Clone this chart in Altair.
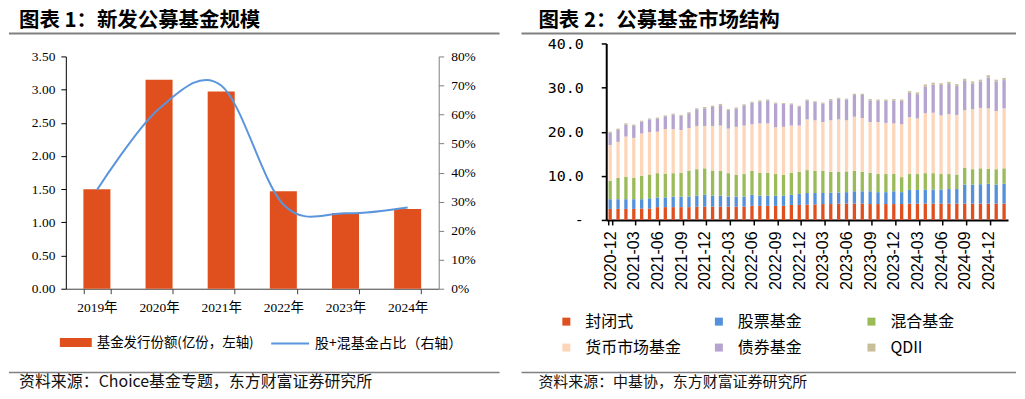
import altair as alt
import pandas as pd

# ---------------- Figure 1: new public fund issuance ----------------
years = ["2019年", "2020年", "2021年", "2022年", "2023年", "2024年"]
issuance = [1.50, 3.15, 2.97, 1.47, 1.14, 1.20]
equity_mix_share = [0.34, 0.62, 0.70, 0.29, 0.26, 0.28]
bar_series = "基金发行份额(亿份，左轴)"
line_series = "股+混基金占比（右轴）"
left_ticks = [0, 0.5, 1.0, 1.5, 2.0, 2.5, 3.0, 3.5]
right_ticks = [0, 0.1, 0.2, 0.3, 0.4, 0.5, 0.6, 0.7, 0.8]

# ---------------- Figure 2: public fund market structure ----------------
months = list(pd.period_range("2020-12", "2025-02", freq="M").strftime("%Y-%m"))
series_names = ["封闭式", "股票基金", "混合基金", "货币市场基金", "债券基金", "QDII"]
series_colors = ["#E0501F", "#5590DA", "#9BBB59", "#FDD6BA", "#B4A4CF", "#C8BF98"]
closed = [2.5, 2.5, 2.5, 2.5, 2.6, 2.6, 2.9, 2.9, 2.9, 2.9, 2.9, 3.0, 3.0, 3.0, 3.0, 3.0, 3.0,
          3.0, 3.2, 3.2, 3.2, 3.2, 3.2, 3.4, 3.4, 3.5, 3.5, 3.6, 3.6, 3.7, 3.7, 3.7, 3.7, 3.6,
          3.6, 3.6, 3.6, 3.6, 3.7, 3.7, 3.7, 3.7, 3.7, 3.7, 3.7, 3.7, 3.7, 3.7, 3.7, 3.7, 3.7]
stock = [2.2, 2.2, 2.2, 2.2, 2.1, 2.3, 2.2, 2.2, 2.4, 2.4, 2.4, 2.5, 2.7, 2.5, 2.5, 2.3, 2.3,
         2.3, 2.5, 2.3, 2.3, 2.3, 2.3, 2.3, 2.5, 2.6, 2.6, 2.5, 2.6, 2.5, 2.6, 2.8, 2.8, 2.9,
         2.7, 2.7, 2.9, 2.7, 3.1, 3.1, 3.2, 3.2, 3.2, 3.3, 3.3, 4.3, 4.3, 4.4, 4.5, 4.3, 4.5]
mixed = [4.2, 4.8, 5.1, 4.9, 5.3, 5.4, 5.5, 5.4, 5.3, 5.4, 5.9, 6.0, 6.0, 5.7, 5.6, 5.3, 4.9,
         5.1, 5.4, 5.2, 5.2, 4.9, 4.7, 5.0, 5.0, 5.2, 5.0, 5.0, 4.7, 4.7, 4.7, 4.6, 4.4, 4.2,
         4.1, 4.1, 4.0, 3.4, 3.6, 3.6, 3.7, 3.7, 3.5, 3.4, 3.3, 3.8, 3.5, 3.6, 3.4, 3.5, 3.5]
money = [8.1, 8.2, 9.1, 9.0, 9.6, 9.6, 9.4, 10.1, 10.0, 9.7, 9.6, 9.8, 9.6, 10.1, 10.3, 10.1,
         10.9, 11.0, 10.6, 11.2, 11.2, 10.6, 10.9, 10.7, 10.5, 11.5, 11.5, 11.1, 11.7, 11.9, 11.6,
         12.3, 12.2, 11.5, 11.8, 11.6, 11.4, 12.0, 12.9, 12.6, 13.6, 13.7, 13.3, 13.6, 13.5, 13.1,
         13.6, 13.7, 13.7, 13.2, 13.6]
bond = [2.8, 2.7, 2.7, 2.7, 2.7, 2.9, 2.9, 2.9, 3.3, 3.2, 3.4, 3.8, 4.0, 4.3, 4.6, 4.2, 4.1,
        4.6, 4.9, 4.9, 5.2, 5.4, 5.2, 4.8, 4.3, 4.3, 4.1, 4.2, 4.5, 4.7, 4.7, 4.9, 5.2, 4.9,
        4.8, 5.0, 5.2, 5.3, 5.5, 5.5, 6.0, 6.4, 6.9, 6.8, 6.6, 6.6, 5.8, 6.0, 7.0, 6.7, 6.4]
qdii = [0.2, 0.3, 0.3, 0.3, 0.2, 0.2, 0.3, 0.2, 0.2, 0.2, 0.2, 0.2, 0.3, 0.3, 0.3, 0.2, 0.3,
        0.2, 0.2, 0.3, 0.2, 0.2, 0.2, 0.2, 0.2, 0.2, 0.2, 0.2, 0.3, 0.2, 0.2, 0.3, 0.3, 0.3,
        0.3, 0.3, 0.3, 0.3, 0.4, 0.4, 0.5, 0.4, 0.4, 0.5, 0.4, 0.5, 0.5, 0.4, 0.5, 0.4, 0.5]
month_labels = months[::3]
y2_ticks = [0, 10, 20, 30, 40]

title1 = "图表 1：新发公募基金规模"
title2 = "图表 2：公募基金市场结构"
source1 = "资料来源：Choice基金专题，东方财富证券研究所"
source2 = "资料来源：中基协，东方财富证券研究所"

CJK = "Noto Sans CJK SC"
SERIF = "Liberation Serif, Noto Sans CJK SC"
RED = "#E0501F"
LINE_BLUE = "#5B95DC"
RULE_GRAY = "#808080"

# ======================= Panel 1 =======================
df1 = pd.DataFrame({"year": years, "issuance": issuance, "share": equity_mix_share,
                    "bar_name": bar_series, "line_name": line_series})

x1 = alt.X("year:N", sort=years,
           scale=alt.Scale(paddingInner=0.565, paddingOuter=0.2825),
           axis=alt.Axis(title=None, labelAngle=0, tickBand="extent", domainColor="#404040",
                         tickColor="#404040", tickSize=5, labelFont=SERIF, labelFontSize=13.5,
                         labelColor="#000000", labelPadding=7, grid=False))

bars1 = alt.Chart(df1).mark_bar().encode(
    x=x1,
    y=alt.Y("issuance:Q", scale=alt.Scale(domain=[0, 3.5], nice=False),
            axis=alt.Axis(title=None, values=left_ticks, format=".2f", grid=False,
                          domainColor="#000000", tickColor="#000000", tickSize=5,
                          labelFont=SERIF, labelFontSize=13.5, labelColor="#000000",
                          labelPadding=6)),
    fill=alt.Fill("bar_name:N", scale=alt.Scale(range=[RED]),
                  legend=alt.Legend(title=None, orient="none", legendX=-6, legendY=271,
                                    symbolType="M-1,-0.28H1V0.28H-1Z", symbolSize=1024,
                                    symbolStrokeWidth=0, labelFont=CJK, labelFontSize=13.5,
                                    labelColor="#000000", labelOffset=5, labelLimit=400)),
)

line1 = alt.Chart(df1).mark_line(interpolate="cardinal", tension=0, strokeWidth=2).encode(
    x=alt.X("year:N", sort=years),
    y=alt.Y("share:Q", scale=alt.Scale(domain=[0, 0.8], nice=False),
            axis=alt.Axis(title=None, orient="right", values=right_ticks, format=".0%",
                          grid=False, domainColor=RULE_GRAY, tickColor=RULE_GRAY, tickSize=5,
                          labelFont=SERIF, labelFontSize=13.5, labelColor="#000000",
                          labelPadding=7)),
    stroke=alt.Stroke("line_name:N", scale=alt.Scale(range=[LINE_BLUE]),
                      legend=alt.Legend(title=None, orient="none", legendX=205, legendY=268,
                                        symbolType="stroke", symbolSize=1444,
                                        symbolStrokeWidth=2, labelFont=CJK, labelFontSize=14,
                                        labelColor="#000000", labelOffset=5, labelLimit=400)),
)


def decorations(title, source, x_left, x_right, title_x, source_size):
    # invisible anchor fixing the top edge of the drawing
    anchor = alt.Chart(pd.DataFrame({"r": [0]})).mark_rule(
        strokeOpacity=0, strokeWidth=0).encode(
        x=alt.value(x_left), x2=alt.value(x_left + 10), y=alt.value(-48))
    t = alt.Chart(pd.DataFrame({"t": [title]})).mark_text(
        align="left", baseline="top", font=CJK, fontSize=20.5, fontWeight="bold",
        color="#000000").encode(x=alt.value(title_x), y=alt.value(-46), text="t:N")
    r_top = alt.Chart(pd.DataFrame({"r": [0]})).mark_rule(
        color=RULE_GRAY, strokeWidth=2).encode(
        x=alt.value(x_left), x2=alt.value(x_right), y=alt.value(-23))
    r_bot = alt.Chart(pd.DataFrame({"r": [0]})).mark_rule(
        color=RULE_GRAY, strokeWidth=1.5).encode(
        x=alt.value(x_left), x2=alt.value(x_right), y=alt.value(317))
    s = alt.Chart(pd.DataFrame({"s": [source]})).mark_text(
        align="left", baseline="middle", font=CJK, fontSize=source_size,
        color="#111111").encode(x=alt.value(title_x), y=alt.value(327), text="s:N")
    return [anchor, t, r_top, r_bot, s]


panel1 = alt.layer(bars1, line1, *decorations(title1, source1, -57, 435, -47, 16)).resolve_scale(
    y="independent").properties(width=374, height=233)

# ======================= Panel 2 =======================
values_by_series = [closed, stock, mixed, money, bond, qdii]
rows = []
for k, (name, vals) in enumerate(zip(series_names, values_by_series)):
    for m, v in zip(months, vals):
        rows.append({"month": m, "series": name, "value": v, "order": k})
df2 = pd.DataFrame(rows)

zero_expr = "datum.value == 0 ? '-\u00a0\u00a0' : format(datum.value, '.1f')"

bars2 = alt.Chart(df2).mark_bar().encode(
    x=alt.X("month:N", sort=months,
            scale=alt.Scale(paddingInner=0.58, paddingOuter=0.29),
            axis=alt.Axis(title=None, values=month_labels, labelAngle=-90, tickBand="extent",
                          domainColor="#000000", domainWidth=2, tickColor="#000000",
                          tickWidth=1.5, tickSize=5, labelFont="Liberation Sans",
                          labelFontSize=16, labelColor="#000000", labelPadding=6, grid=False)),
    y=alt.Y("value:Q", stack="zero",
            scale=alt.Scale(domain=[0, 40], nice=False, range=[164, -13]),
            axis=alt.Axis(title=None, values=y2_ticks, labelExpr=zero_expr, grid=False,
                          domainColor="#000000", domainWidth=2, tickColor="#000000",
                          tickWidth=1.5, tickSize=5, labelFont="DejaVu Sans Mono",
                          labelFontSize=15, labelColor="#000000", labelPadding=18)),
    color=alt.Color("series:N", sort=series_names,
                    scale=alt.Scale(domain=series_names, range=series_colors),
                    legend=alt.Legend(title=None, orient="none", legendX=-48, legendY=258,
                                      direction="horizontal", columns=3, gridAlign="all",
                                      symbolType="square", symbolSize=64, symbolStrokeWidth=0,
                                      labelFont=CJK, labelFontSize=16, labelColor="#000000",
                                      labelOffset=11, columnPadding=29, rowPadding=10,
                                      labelLimit=400)),
    order=alt.Order("order:Q", sort="ascending"),
)

panel2 = alt.layer(bars2, *decorations(title2, source2, -85, 411, -68, 15)).properties(
    width=403, height=164)

chart = alt.hconcat(panel1, panel2, spacing=20).resolve_scale(
    color="independent", fill="independent", stroke="independent"
).resolve_legend(
    color="independent", fill="independent", stroke="independent"
).properties(padding=0).configure_view(stroke=None)

chart.save("out.html", embed_options={"renderer": "svg", "actions": False})
